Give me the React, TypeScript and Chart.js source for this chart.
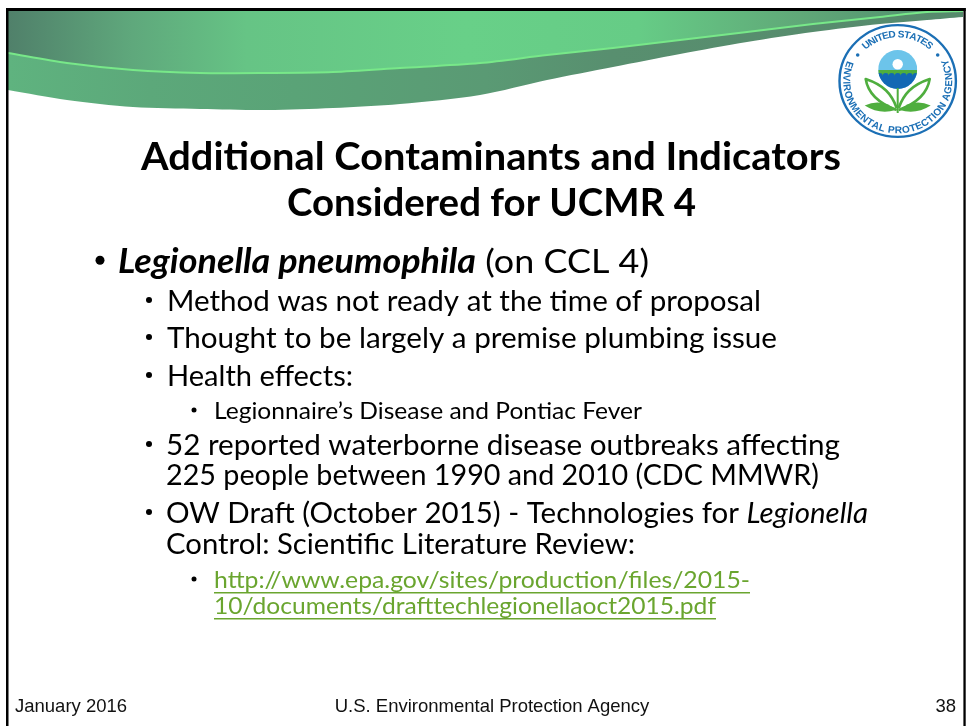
import React, { useEffect, useRef } from "react";
import { Chart, registerables } from "chart.js";

Chart.register(...registerables);

const bannerX = [8, 67, 133, 200, 267, 333, 400, 480, 547, 613, 680, 747, 813, 880, 927, 963];
const bannerTop = [11, 11, 11, 11, 11, 11, 11, 11, 11, 11, 11, 11, 11, 11, 11, 11];
const ribbonLine = [53, 63, 70, 73, 73, 72, 68, 63, 55, 48, 40, 32, 24, 17, 12, 11];
const bannerBottom = [90, 100, 107, 109, 110, 108, 104, 95, 80, 67, 54, 42, 32, 24, 20, 17];

const titleLines = ["Additional Contaminants and Indicators", "Considered for UCMR 4"];
const footerTexts = ["January 2016", "U.S. Environmental Protection Agency", "38"];
const sealTop = "UNITED STATES";
const sealBottom = "ENVIRONMENTAL PROTECTION AGENCY";

type Seg = { t: string; style?: string };
type Row = { segs: Seg[]; x0: number; x1: number; y: number; size: number; bullet?: number; color?: string; underline?: boolean };

const FONT = "Lato";
const L1 = 33.5, L2 = 29, L3 = 24;
const rows: Row[] = [
  { segs: [{ t: "Legionella pneumophila", style: "italic 700" }, { t: " (on CCL 4)" }], x0: 118, x1: 649, y: 273, size: L1, bullet: 100 },
  { segs: [{ t: "Method was not ready at the time of proposal" }], x0: 167, x1: 761, y: 311, size: L2, bullet: 149 },
  { segs: [{ t: "Thought to be largely a premise plumbing issue" }], x0: 167, x1: 777, y: 348, size: L2, bullet: 149 },
  { segs: [{ t: "Health effects:" }], x0: 167, x1: 353, y: 386, size: L2, bullet: 149 },
  { segs: [{ t: "Legionnaire\u2019s Disease and Pontiac Fever" }], x0: 214, x1: 642, y: 419, size: L3, bullet: 194 },
  { segs: [{ t: "52 reported waterborne disease outbreaks affecting" }], x0: 166, x1: 840, y: 455, size: L2, bullet: 149 },
  { segs: [{ t: "225 people between 1990 and 2010 (CDC MMWR)" }], x0: 166, x1: 819, y: 485, size: L2 },
  { segs: [{ t: "OW Draft (October 2015) - Technologies for " }, { t: "Legionella", style: "italic" }], x0: 166, x1: 868, y: 523, size: L2, bullet: 149 },
  { segs: [{ t: "Control: Scientific Literature Review:" }], x0: 166, x1: 635, y: 554, size: L2 },
  { segs: [{ t: "http://www.epa.gov/sites/production/files/2015-" }], x0: 214, x1: 750, y: 588, size: L3, bullet: 194, color: "#6aa52f", underline: true },
  { segs: [{ t: "10/documents/drafttechlegionellaoct2015.pdf" }], x0: 214, x1: 716, y: 614, size: L3, color: "#6aa52f", underline: true },
];

function fitRow(ctx: CanvasRenderingContext2D, r: Row) {
  const fontOf = (s: Seg) => `${s.style || "400"} ${r.size}px ${FONT}`;
  let w = 0;
  for (const s of r.segs) {
    ctx.font = fontOf(s);
    w += ctx.measureText(s.t).width;
  }
  const k = (r.x1 - r.x0) / w;
  ctx.save();
  ctx.translate(r.x0, r.y);
  ctx.scale(k, 1);
  ctx.fillStyle = r.color || "#000";
  ctx.textAlign = "left";
  ctx.textBaseline = "alphabetic";
  let x = 0;
  for (const s of r.segs) {
    ctx.font = fontOf(s);
    ctx.fillText(s.t, x, 0);
    x += ctx.measureText(s.t).width;
  }
  ctx.restore();
  if (r.underline) {
    ctx.fillStyle = r.color || "#000";
    ctx.fillRect(r.x0, r.y + 4, r.x1 - r.x0, 1.5);
  }
  if (r.bullet) {
    ctx.fillStyle = "#000";
    ctx.beginPath();
    ctx.arc(r.bullet, r.y - r.size * 0.38, r.size > 30 ? 4.5 : r.size > 26 ? 3 : 2.5, 0, Math.PI * 2);
    ctx.fill();
  }
}

function arcText(ctx: CanvasRenderingContext2D, text: string, cx: number, cy: number, radius: number, from: number, to: number, inward: boolean) {
  ctx.save();
  ctx.font = "700 10.2px 'Liberation Sans'";
  ctx.fillStyle = "#1b6fb5";
  ctx.textAlign = "center";
  ctx.textBaseline = "alphabetic";
  const widths = [...text].map((c) => ctx.measureText(c).width + 0.4);
  const total = widths.reduce((a, b) => a + b, 0);
  let acc = 0;
  [...text].forEach((c, i) => {
    const f = (acc + widths[i] / 2) / total;
    acc += widths[i];
    const a = from + (to - from) * f; // angle clockwise from top, radians
    ctx.save();
    ctx.translate(cx + radius * Math.sin(a), cy - radius * Math.cos(a));
    ctx.rotate(inward ? a : a + Math.PI);
    ctx.fillText(c, 0, 0);
    ctx.restore();
  });
  ctx.restore();
}

function drawSeal(ctx: CanvasRenderingContext2D) {
  const cx = 897.7, cy = 81;
  ctx.save();
  // whole seal is slightly flattened, as in the picture
  ctx.translate(0, cy);
  ctx.scale(1, 0.96);
  ctx.translate(0, -cy);
  ctx.fillStyle = "#fff";
  ctx.beginPath();
  ctx.arc(cx, cy, 59.5, 0, Math.PI * 2);
  ctx.fill();
  ctx.strokeStyle = "#1b6fb5";
  ctx.lineWidth = 2.4;
  ctx.beginPath();
  ctx.arc(cx, cy, 58.2, 0, Math.PI * 2);
  ctx.stroke();
  const d = Math.PI / 180;
  arcText(ctx, sealTop, cx, cy, 45.5, -44 * d, 44 * d, true);
  arcText(ctx, sealBottom, cx, cy, 54.5, 293 * d, 65 * d, false);
  ctx.fillStyle = "#1b6fb5";
  for (const s of [-1, 1]) {
    ctx.beginPath();
    ctx.arc(cx + s * 40, cy - 27, 1.8, 0, Math.PI * 2);
    ctx.fill();
  }
  ctx.restore();
  // emblem disc
  const ey = 69.5, er = 19.5;
  ctx.save();
  ctx.beginPath();
  ctx.arc(cx, ey, er, 0, Math.PI * 2);
  ctx.clip();
  ctx.fillStyle = "#6cc4ea";
  ctx.fillRect(cx - er, ey - er, er * 2, er * 2);
  ctx.fillStyle = "#1268b4";
  ctx.fillRect(cx - er, 75, er * 2, er + 2);
  ctx.fillStyle = "#4fae3e";
  ctx.fillRect(cx - er, 70, er * 2, 5.5);
  ctx.fillStyle = "#1268b4";
  for (let i = -3; i <= 3; i++) {
    ctx.beginPath();
    ctx.arc(cx + i * 6, 76, 3, Math.PI, 0);
    ctx.fill();
  }
  ctx.restore();
  ctx.fillStyle = "#fff";
  ctx.beginPath();
  ctx.arc(cx, 64.3, 5.2, 0, Math.PI * 2);
  ctx.fill();
  // leaves
  ctx.strokeStyle = "#4fae3e";
  ctx.lineWidth = 2.6;
  ctx.lineJoin = "round";
  for (const s of [-1, 1]) {
    ctx.beginPath();
    ctx.moveTo(cx + s * 1, 108);
    ctx.bezierCurveTo(cx + s * 6, 94, cx + s * 14, 85, cx + s * 32, 79);
    ctx.bezierCurveTo(cx + s * 30, 92, cx + s * 20, 103, cx + s * 1, 110);
    ctx.stroke();
    ctx.fillStyle = "#4fae3e";
    ctx.beginPath();
    ctx.moveTo(cx + s * 2, 110);
    ctx.quadraticCurveTo(cx + s * 16, 98, cx + s * 33, 105.5);
    ctx.quadraticCurveTo(cx + s * 18, 115, cx + s * 2, 110);
    ctx.fill();
  }
  ctx.fillStyle = "#4fae3e";
  ctx.fillRect(cx - 1, 88, 2, 25);
}

const slidePlugin = {
  id: "slide",
  afterDraw(chart: any) {
    const ctx: CanvasRenderingContext2D = chart.ctx;
    ctx.save();
    // frame
    ctx.fillStyle = "#000";
    ctx.fillRect(6, 8, 959.7, 3);
    ctx.fillRect(6, 8, 2.5, 718);
    ctx.fillRect(963.4, 8, 2.3, 718);
    drawSeal(ctx);
    // title
    fitRow(ctx, { segs: [{ t: titleLines[0], style: "700" }], x0: 141, x1: 841, y: 170, size: 39 });
    fitRow(ctx, { segs: [{ t: titleLines[1], style: "700" }], x0: 287, x1: 696, y: 216, size: 39 });
    rows.forEach((r) => fitRow(ctx, r));
    // footer
    ctx.font = "18.5px 'Liberation Sans'";
    ctx.fillStyle = "#111";
    ctx.textBaseline = "alphabetic";
    ctx.textAlign = "left";
    ctx.fillText(footerTexts[0], 15, 711.5);
    ctx.textAlign = "center";
    ctx.fillText(footerTexts[1], 492, 711.5);
    ctx.textAlign = "right";
    ctx.fillText(footerTexts[2], 956, 711.5);
    ctx.restore();
  },
};

export default function App() {
  const ref = useRef<HTMLCanvasElement>(null);
  useEffect(() => {
    document.body.style.margin = "0";
    const canvas = ref.current!;
    const g = canvas.getContext("2d")!;
    const upper = g.createLinearGradient(8, 0, 963, 0);
    upper.addColorStop(0, "#50806a");
    upper.addColorStop(0.13, "#5fa87c");
    upper.addColorStop(0.25, "#66c485");
    upper.addColorStop(0.48, "#68d088");
    upper.addColorStop(0.66, "#66cc86");
    upper.addColorStop(0.83, "#60a878");
    upper.addColorStop(1, "#4f8a6c");
    const lower = g.createLinearGradient(8, 0, 963, 0);
    lower.addColorStop(0, "#5fb37f");
    lower.addColorStop(0.15, "#5ca87a");
    lower.addColorStop(0.3, "#5aa377");
    lower.addColorStop(0.5, "#5a9a74");
    lower.addColorStop(0.63, "#588f6f");
    lower.addColorStop(1, "#568a6c");
    const pts = (ys: number[]) => ys.map((y, i) => ({ x: bannerX[i], y }));
    const chart = new Chart(canvas, {
      type: "line",
      data: {
        datasets: [
          { label: "Banner top", data: pts(bannerTop), borderWidth: 0, pointRadius: 0, fill: false },
          {
            label: "Ribbon",
            data: pts(ribbonLine),
            borderColor: "#78e889",
            borderWidth: 2,
            pointRadius: 0,
            tension: 0.3,
            backgroundColor: upper,
            fill: "-1",
          },
          {
            label: "Banner bottom",
            data: pts(bannerBottom),
            borderWidth: 0,
            pointRadius: 0,
            tension: 0.3,
            backgroundColor: lower,
            fill: "-1",
          },
        ],
      },
      options: {
        responsive: false,
        animation: false,
        layout: { padding: 0 },
        plugins: { legend: { display: false }, tooltip: { enabled: false }, title: { display: false } },
        scales: {
          x: { type: "linear", min: 0, max: 966, display: false },
          y: { min: 0, max: 726, reverse: true, display: false },
        },
      },
      plugins: [slidePlugin],
    } as any);
    return () => chart.destroy();
  }, []);
  return <canvas ref={ref} width={966} height={726} style={{ display: "block" }} />;
}
